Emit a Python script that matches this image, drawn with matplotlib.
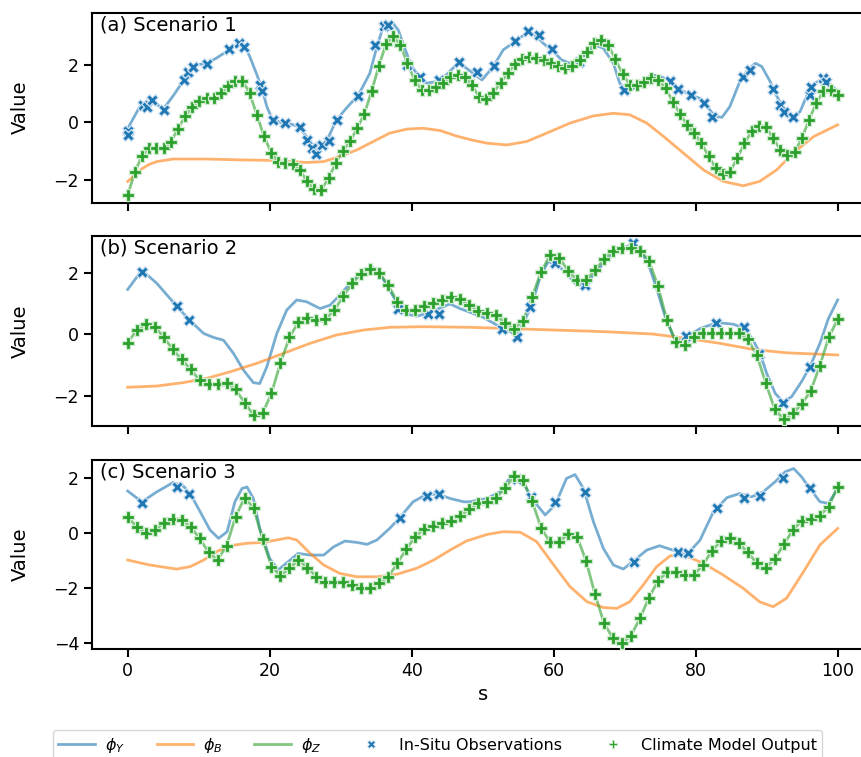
import numpy as np
import matplotlib
matplotlib.use("Agg")
import matplotlib.pyplot as plt
from matplotlib.lines import Line2D

# ---------------- Panel (a) Scenario 1 ----------------
a_model = [-2.53, -1.74, -1.16, -0.90, -0.90, -0.90, -0.70, -0.23, 0.20, 0.54,
           0.75, 0.83, 0.83, 1.01, 1.26, 1.45, 1.45, 1.01, 0.26, -0.48,
           -1.06, -1.37, -1.43, -1.45, -1.66, -2.06, -2.33, -2.35, -1.95, -1.43,
           -0.99, -0.67, -0.21, 0.29, 1.07, 1.94, 2.71, 3.00, 2.69, 2.05,
           1.47, 1.12, 1.12, 1.24, 1.38, 1.59, 1.65, 1.59, 1.30, 0.87,
           0.80, 1.03, 1.38, 1.70, 2.03, 2.19, 2.28, 2.23, 2.17, 2.05,
           1.94, 1.88, 1.94, 2.17, 2.46, 2.75, 2.86, 2.69, 2.19, 1.68,
           1.30, 1.30, 1.41, 1.53, 1.47, 1.18, 0.72, 0.29, -0.09, -0.38,
           -0.73, -1.19, -1.60, -1.80, -1.72, -1.25, -0.73, -0.32, -0.13, -0.17,
           -0.56, -0.96, -1.14, -1.02, -0.56, 0.08, 0.66, 1.07, 1.12, 0.95]

a_phiY_s = [0, 1.7, 2.7, 3.6, 5.0, 6.5, 7.9, 8.8, 9.7, 11.1, 12.5, 14.4, 15.6, 16.4, 17.2,
            18.2, 18.9, 19.6, 20.3, 21.5, 22.6, 24.0, 25.2, 26.4, 27.1, 28.0, 29.4, 30.8,
            32.5, 34.1, 35.1, 36.0, 37.2, 38.1, 39.1, 40.0, 41.2, 42.1, 43.5, 44.9, 46.6,
            47.7, 49.9, 51.5, 52.9, 54.6, 56.4, 57.6, 58.5, 59.7, 61.1, 62.3, 63.5, 64.6,
            66.1, 67.0, 68.4, 69.3, 70.5, 72.2, 73.8, 75.0, 76.4, 77.5, 79.2, 80.6, 81.8,
            82.7, 83.7, 84.8, 86.3, 87.4, 88.4, 89.3, 90.5, 91.2, 92.2, 93.1, 93.8, 94.7,
            95.7, 96.8, 98.0, 98.9, 100]
a_phiY_v = [-0.22, 0.54, 0.68, 0.72, 0.45, 0.95, 1.47, 1.82, 1.99, 2.05, 2.23, 2.54, 2.75,
            2.69, 2.28, 1.65, 1.18, 0.54, 0.14, -0.01, -0.03, -0.15, -0.50, -0.88, -0.88,
            -0.67, 0.08, 0.49, 0.95, 1.70, 2.63, 3.33, 3.50, 3.21, 2.52, 1.94, 1.53, 1.36,
            1.41, 1.65, 2.08, 1.88, 1.47, 1.94, 2.52, 2.81, 3.15, 2.98, 2.75, 2.52, 2.17,
            2.05, 2.11, 2.40, 2.66, 2.57, 2.05, 1.36, 1.03, 1.36, 1.65, 1.59, 1.45, 1.18,
            0.95, 0.83, 0.49, 0.20, 0.17, 0.54, 1.47, 1.84, 2.05, 1.94, 1.41, 1.01, 0.54,
            0.26, 0.17, 0.37, 0.95, 1.36, 1.53, 1.33, 1.07]

a_phiB_s = [0, 1, 2, 3, 4.1, 6.4, 11.1, 15.8, 20.5, 25.2, 27.6, 29.9, 32.3, 34.6, 36.9, 39.3,
            41.6, 44.0, 46.3, 48.5, 50.6, 53.4, 56.2, 59.0, 62.3, 65.6, 68.4, 70.7, 73.1,
            75.5, 78.3, 81.1, 83.9, 86.7, 89.0, 91.4, 93.7, 96.6, 100]
a_phiB_v = [-2.06, -1.85, -1.62, -1.47, -1.37, -1.28, -1.28, -1.31, -1.33, -1.40, -1.37,
            -1.19, -0.96, -0.67, -0.38, -0.24, -0.21, -0.29, -0.48, -0.62, -0.73, -0.79,
            -0.67, -0.38, -0.03, 0.22, 0.31, 0.26, -0.03, -0.50, -1.08, -1.66, -2.06,
            -2.21, -2.06, -1.66, -1.08, -0.50, -0.09]

a_obs_s = [0, 0, 2.2, 2.7, 3.4, 5.1, 8.0, 8.5, 9.2, 11.1, 14.3, 15.7, 16.4, 18.7, 18.9,
           20.5, 22.2, 24.3, 25.3, 25.9, 26.5, 27.3, 28.3, 29.5, 32.5, 34.8, 36.1, 36.7,
           39.3, 41.2, 43.8, 46.7, 49.2, 51.6, 54.6, 56.4, 57.9, 59.7, 63.5, 69.9, 76.4,
           77.5, 79.4, 81.1, 82.3, 86.7, 87.6, 90.9, 91.9, 92.4, 93.7, 96.1, 96.3, 98.0, 98.3]
a_obs_v = [-0.29, -0.44, 0.60, 0.54, 0.78, 0.43, 1.47, 1.76, 1.91, 2.03, 2.54, 2.75, 2.63,
           1.30, 1.07, 0.08, -0.03, -0.15, -0.61, -0.90, -1.10, -0.79, -0.67, 0.08, 0.92,
           2.69, 3.33, 3.39, 1.99, 1.59, 1.47, 2.08, 1.76, 1.96, 2.81, 3.19, 3.04, 2.54,
           2.11, 1.12, 1.45, 1.16, 0.95, 0.68, 0.17, 1.59, 1.82, 1.15, 0.60, 0.37, 0.17,
           0.95, 1.24, 1.53, 1.41]

# ---------------- Panel (b) Scenario 2 ----------------
b_model = [-0.27, 0.14, 0.33, 0.25, -0.08, -0.49, -0.81, -1.14, -1.49, -1.62,
           -1.62, -1.59, -1.79, -2.22, -2.62, -2.57, -1.92, -0.92, -0.10, 0.41,
           0.52, 0.47, 0.49, 0.79, 1.25, 1.66, 1.98, 2.14, 2.00, 1.60,
           1.06, 0.79, 0.79, 0.92, 1.03, 1.12, 1.20, 1.14, 0.95, 0.77,
           0.70, 0.63, 0.36, 0.19, 0.44, 1.22, 2.04, 2.58, 2.50, 2.07,
           1.77, 1.77, 2.09, 2.44, 2.72, 2.80, 2.80, 2.72, 2.40, 1.57,
           0.46, -0.24, -0.35, -0.08, 0.03, 0.03, 0.03, 0.05, 0.03, -0.16,
           -0.67, -1.59, -2.44, -2.76, -2.57, -2.27, -1.83, -1.03, -0.10, 0.49]

b_phiY_s = [0, 2.0, 4.1, 6.9, 8.8, 10.7, 12.1, 13.5, 14.9, 16.3, 17.7, 18.6, 19.6, 21.0,
            22.4, 23.8, 25.2, 27.1, 28.5, 29.9, 31.8, 33.2, 34.4, 35.5, 36.9, 38.1, 39.3,
            40.7, 42.1, 43.5, 45.4, 46.8, 48.2, 50.1, 52.4, 53.6, 54.8, 55.7, 56.9, 58.1,
            59.2, 60.2, 61.6, 63.0, 64.4, 65.6, 67.0, 68.4, 69.8, 71.2, 72.2, 73.3, 74.5,
            75.7, 76.9, 78.0, 79.2, 80.6, 82.0, 83.2, 85.3, 86.9, 88.1, 89.1, 90.0, 91.2,
            92.3, 93.5, 94.9, 96.1, 97.5, 98.7, 100]
b_phiY_v = [1.46, 2.09, 1.66, 0.92, 0.44, 0.03, -0.10, -0.19, -0.62, -1.16, -1.57, -1.60,
            -1.05, 0.03, 0.79, 1.12, 1.06, 0.84, 0.95, 1.28, 1.79, 2.09, 2.20, 1.98, 1.44,
            0.95, 0.66, 0.59, 0.68, 0.81, 0.99, 0.84, 0.72, 0.55, 0.25, 0.14, -0.06, 0.36,
            0.95, 1.87, 2.36, 2.31, 2.04, 1.66, 1.57, 1.93, 2.31, 2.63, 2.80, 2.96, 2.74,
            2.31, 1.49, 0.57, -0.10, -0.24, -0.02, 0.19, 0.30, 0.38, 0.33, 0.19, -0.19,
            -0.64, -1.27, -1.92, -2.19, -2.03, -1.54, -1.05, -0.29, 0.52, 1.12]

b_phiB_s = [0, 4.1, 7.8, 11.1, 14.4, 18.2, 21.9, 25.7, 29.4, 33.2, 36.9, 41.6, 48.2, 57.6,
            67.0, 74.0, 78.7, 83.4, 88.1, 92.8, 100]
b_phiB_v = [-1.72, -1.68, -1.57, -1.43, -1.22, -0.94, -0.62, -0.29, -0.02, 0.14, 0.23,
            0.25, 0.23, 0.16, 0.09, 0.01, -0.13, -0.29, -0.49, -0.60, -0.67]

b_obs_s = [2.0, 7.0, 8.6, 38.1, 42.3, 43.8, 52.7, 54.8, 56.7, 60.2, 64.4, 71.2, 78.7,
           82.9, 86.8, 88.9, 92.3, 96.1]
b_obs_v = [2.04, 0.92, 0.46, 0.84, 0.66, 0.66, 0.16, -0.10, 0.88, 2.31, 1.60, 2.96,
           -0.06, 0.38, 0.23, -0.64, -2.22, -1.07]

# ---------------- Panel (c) Scenario 3 ----------------
c_model = [0.60, 0.24, 0.00, 0.12, 0.36, 0.52, 0.48, 0.24, -0.18, -0.69,
           -0.97, -0.45, 0.60, 1.30, 0.93, -0.21, -1.21, -1.54, -1.27, -0.97,
           -1.25, -1.58, -1.76, -1.76, -1.76, -1.88, -2.00, -2.00, -1.82, -1.58,
           -1.09, -0.57, -0.12, 0.16, 0.28, 0.36, 0.45, 0.63, 0.88, 1.09,
           1.15, 1.30, 1.64, 2.09, 1.94, 1.17, 0.20, -0.33, -0.30, -0.04,
           -0.12, -1.00, -2.22, -3.27, -3.82, -4.00, -3.72, -3.09, -2.34, -1.73,
           -1.42, -1.42, -1.52, -1.52, -1.15, -0.64, -0.28, -0.18, -0.36, -0.69,
           -1.09, -1.25, -0.93, -0.40, 0.12, 0.45, 0.52, 0.64, 0.97, 1.70]

c_phiY_s = [0, 2.0, 4.1, 6.4, 7.8, 8.8, 10.2, 11.6, 12.8, 14.0, 15.1, 16.1, 16.8, 17.7,
            18.6, 20.0, 21.2, 22.6, 24.0, 25.7, 27.6, 29.0, 30.6, 32.3, 33.7, 35.1, 36.9,
            38.4, 40.2, 42.1, 43.8, 45.4, 47.3, 48.2, 50.6, 52.4, 54.1, 55.5, 56.9, 58.8,
            60.2, 61.8, 63.0, 64.2, 65.6, 67.0, 68.4, 69.8, 71.2, 73.1, 74.9, 76.8, 78.7,
            80.6, 82.5, 84.4, 86.2, 87.9, 89.5, 91.2, 92.6, 93.8, 94.9, 96.1, 97.5, 98.7, 100]
c_phiY_v = [1.54, 1.15, 1.51, 1.85, 1.73, 1.45, 0.79, 0.12, -0.18, 0.06, 1.15, 1.63, 1.69,
            1.27, 0.18, -0.91, -1.33, -1.03, -0.73, -0.79, -0.79, -0.49, -0.28, -0.33, -0.40,
            -0.24, 0.18, 0.60, 1.15, 1.42, 1.42, 1.27, 1.15, 1.15, 1.27, 1.51, 2.12, 1.94,
            1.27, 0.67, 1.03, 2.00, 2.14, 1.63, 0.42, -0.55, -1.15, -1.30, -1.01, -0.61,
            -0.45, -0.61, -0.79, -0.25, 0.79, 1.30, 1.45, 1.33, 1.51, 1.88, 2.24, 2.36,
            2.06, 1.63, 1.15, 1.09, 1.63]

c_phiB_s = [0, 3.1, 6.9, 8.8, 10.7, 12.5, 14.4, 16.8, 19.1, 21.0, 22.6, 23.8, 25.7, 27.6,
            29.9, 32.3, 35.1, 37.9, 40.7, 43.1, 45.4, 47.7, 50.6, 52.9, 55.3, 57.6, 60.0,
            62.3, 64.7, 67.0, 68.9, 70.7, 72.6, 74.5, 76.4, 78.3, 81.1, 83.9, 86.7, 89.0,
            90.9, 92.8, 95.2, 97.5, 100]
c_phiB_v = [-0.97, -1.15, -1.30, -1.21, -0.97, -0.67, -0.45, -0.36, -0.33, -0.24, -0.16,
            -0.24, -0.73, -1.15, -1.46, -1.58, -1.58, -1.49, -1.27, -0.97, -0.61, -0.28,
            -0.04, 0.06, 0.04, -0.30, -1.15, -1.94, -2.49, -2.70, -2.73, -2.49, -1.88,
            -1.21, -0.82, -0.79, -1.09, -1.52, -2.00, -2.49, -2.67, -2.36, -1.39, -0.42, 0.18]

c_obs_s = [2.0, 7.0, 8.7, 38.4, 42.2, 43.8, 54.8, 56.8, 60.2, 64.4, 71.3, 77.5, 78.9,
           83.0, 86.8, 89.1, 92.3, 96.1]
c_obs_v = [1.09, 1.69, 1.42, 0.57, 1.37, 1.45, 1.97, 1.33, 1.15, 1.49, -1.03, -0.67,
           -0.73, 0.93, 1.30, 1.37, 2.02, 1.64]

titles = ["(a) Scenario 1", "(b) Scenario 2", "(c) Scenario 3"]
x_ticks = [0, 20, 40, 60, 80, 100]
legend_labels = [r"$\phi_Y$", r"$\phi_B$", r"$\phi_Z$", "In-Situ Observations",
                 "Climate Model Output"]

panels = [
    (a_model, a_phiY_s, a_phiY_v, a_phiB_s, a_phiB_v, a_obs_s, a_obs_v),
    (b_model, b_phiY_s, b_phiY_v, b_phiB_s, b_phiB_v, b_obs_s, b_obs_v),
    (c_model, c_phiY_s, c_phiY_v, c_phiB_s, c_phiB_v, c_obs_s, c_obs_v),
]

# ---------------- Layout ----------------
W, H = 861, 757
fig = plt.figure(figsize=(W / 100, H / 100), dpi=100)
rects_px = [(12.7, 202.7), (236, 426), (460, 648.5)]
ylims = [(-2.80, 3.81), (-2.98, 3.20), (-4.19, 2.67)]

blue, orange, green = "#1f77b4", "#ff7f0e", "#2ca02c"

axes = []
for i, (top, bot) in enumerate(rects_px):
    ax = fig.add_axes([92.2 / W, 1 - bot / H, 781 / W, (bot - top) / H])
    model, ys, yv, bs, bv, os_, ov = panels[i]
    ms = np.linspace(0, 100, len(model))
    ax.plot(ys, yv, color=blue, alpha=0.6, lw=2, zorder=2)
    ax.plot(bs, bv, color=orange, alpha=0.6, lw=2, zorder=2)
    ax.plot(ms, model, color=green, alpha=0.6, lw=2, zorder=2)
    ax.scatter(os_, ov, marker="X", s=72, color=blue, edgecolors="#d3e4f3",
               linewidths=0.9, zorder=3)
    ax.scatter(ms, model, marker="P", s=72, color=green, edgecolors="#d0ecd0",
               linewidths=0.9, zorder=4)
    ax.set_xlim(-5, 105)
    ax.set_ylim(*ylims[i])
    ax.set_xticks(x_ticks)
    ax.set_ylabel("Value", fontsize=14)
    ax.text(0.010, 0.985, titles[i], transform=ax.transAxes, ha="left", va="top",
            fontsize=14)
    for sp in ax.spines.values():
        sp.set_linewidth(1.5)
    ax.tick_params(labelsize=12.5, width=1.5, length=6)
    if i < 2:
        ax.tick_params(labelbottom=False)
    axes.append(ax)

axes[-1].set_xlabel("s", fontsize=14)
for ax in axes:
    ax.yaxis.set_label_coords(-0.08, 0.5)

handles = [
    Line2D([], [], color=blue, alpha=0.6, lw=2),
    Line2D([], [], color=orange, alpha=0.6, lw=2),
    Line2D([], [], color=green, alpha=0.6, lw=2),
    Line2D([], [], color=blue, marker="X", ls="none", ms=6, mec="#d3e4f3", mew=0.6),
    Line2D([], [], color=green, marker="P", ls="none", ms=6, mec="#d0ecd0", mew=0.6),
]
fig.legend(handles, legend_labels, loc="upper center", bbox_to_anchor=(0.508, 1 - 730 / H),
           borderaxespad=0.0, borderpad=0.35, ncol=5, fontsize=11.5, frameon=True,
           handlelength=2.3, handletextpad=0.6, columnspacing=2.0)

fig.savefig("out.png", dpi=100)
